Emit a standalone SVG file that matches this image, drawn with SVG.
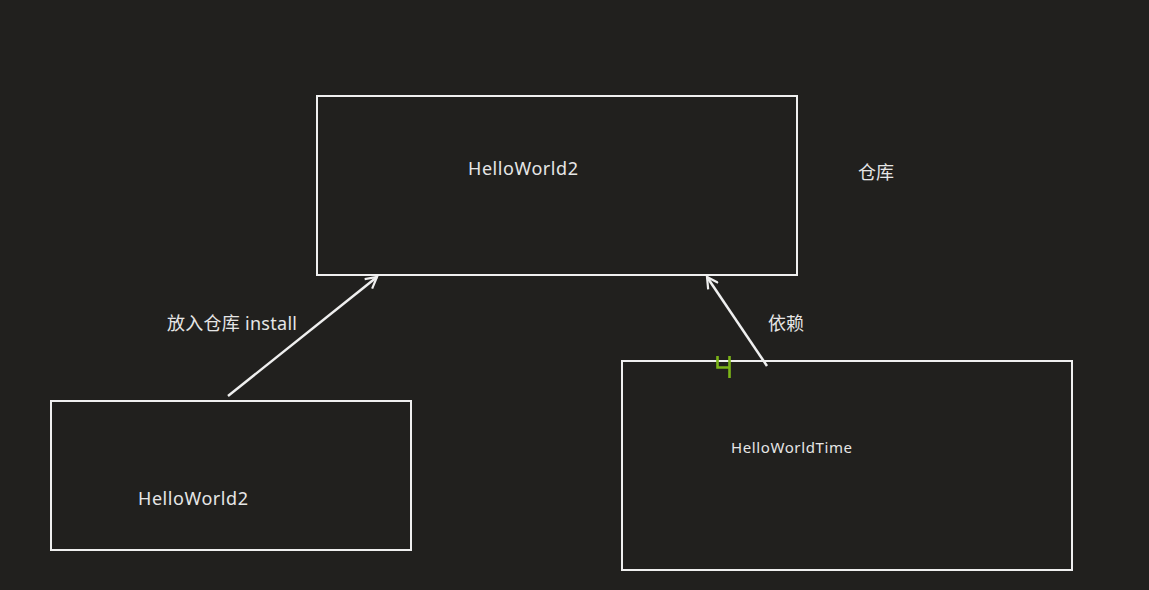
<svg xmlns="http://www.w3.org/2000/svg" width="1149" height="590" viewBox="0 0 1149 590">
<style>
.box{fill:none;stroke:#efefef;stroke-width:2}
.lbl{font-family:"Noto Sans","Noto Sans CJK SC",sans-serif;fill:#e6e6e6;font-size:18px}
.conn{stroke:#efefef;stroke-width:2.5;fill:none}
</style>
<defs>
<marker id="arr" viewBox="0 0 14 14" refX="12" refY="7" markerWidth="14" markerHeight="14" markerUnits="userSpaceOnUse" orient="auto">
<path d="M1,1 L12,7 L1,13" fill="none" stroke="#efefef" stroke-width="2.2"/>
</marker>
</defs>
<rect width="1149" height="590" fill="#21201e"/>
<g id="repo">
<rect class="box" x="317" y="96" width="480" height="179"/>
<text class="lbl" x="468" y="175" textLength="110">HelloWorld2</text>
</g>
<g id="repo-label">
<text class="lbl" x="858" y="179">仓库</text>
</g>
<g id="local">
<rect class="box" x="51" y="401" width="360" height="149"/>
<text class="lbl" x="138" y="505" textLength="110">HelloWorld2</text>
</g>
<g id="time">
<rect class="box" x="622" y="361" width="450" height="209"/>
<text class="lbl" x="731" y="453" style="font-size:15px" textLength="121">HelloWorldTime</text>
</g>
<g id="connectors">
<line class="conn" x1="228" y1="396" x2="377" y2="277" marker-end="url(#arr)"/>
<text class="lbl" x="167" y="330" textLength="130">放入仓库 install</text>
<line class="conn" x1="767" y1="366" x2="707" y2="277" marker-end="url(#arr)"/>
<text class="lbl" x="768" y="330">依赖</text>
</g>
<path d="M717.5,356 V367.5 H729.5 M729.5,356 V378" fill="none" stroke="#7cb518" stroke-width="2.6"/>
</svg>
